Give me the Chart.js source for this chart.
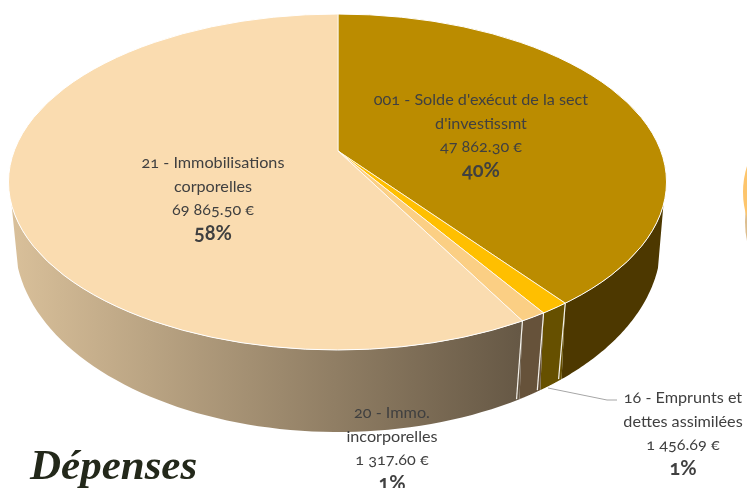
<!DOCTYPE html>
<html>
<head>
<meta charset="utf-8">
<script src="https://cdn.jsdelivr.net/npm/chart.js@4"></script>
<style>
  html, body { margin: 0; padding: 0; background: #fff; overflow: hidden; }
  #wrap { position: relative; width: 747px; height: 488px; overflow: hidden; }
  canvas { position: absolute; left: 0; top: 0; }
  .lbl { position: absolute; transform: translateX(-50%); text-align: center; white-space: nowrap;
         font-family: Lato, sans-serif; font-size: 16.2px; line-height: 23.5px; color: #404040;
         font-variant-numeric: oldstyle-nums; }
  .lbl b { font-size: 20px; }
  #title { position: absolute; left: 30px; top: 440px; font: italic bold 43px "Liberation Serif", serif; color: #23281a; }
</style>
</head>
<body>
<div id="wrap">
  <canvas id="pie" width="747" height="488"></canvas>
  <div id="title">Dépenses</div>
</div>
<script>
const categories = ["001 - Solde d'exécut de la sect d'investissmt", "16 - Emprunts et dettes assimilées", "20 - Immo. incorporelles", "21 - Immobilisations corporelles"];
const values = [47862.30, 1456.69, 1317.60, 69865.50];
const valueLabels = ["47 862.30 €", "1 456.69 €", "1 317.60 €", "69 865.50 €"];
const percentLabels = ["40%", "1%", "1%", "58%"];
const nameLines = [
  ["001 - Solde d'exécut de la sect", "d'investissmt"],
  ["16 - Emprunts et", "dettes assimilées"],
  ["20 - Immo.", "incorporelles"],
  ["21 - Immobilisations", "corporelles"]
];
const topColors = ["#bb8c00", "#ffbf00", "#fbcf84", "#fadcb0"];
const wallColors = ["#4d3800", "#665000", "#66523a", null];

// where each label block goes (center x, top y)
const labelPos = [[481, 87], [683, 385], [392, 400], [213, 150]];

// the picture is a perspective pie, so the apex is not the ellipse center
const apex = { x: 338, y: 151 };
const squash = 0.505;
const topEl = { cx: 337.5, cy: 182, rx: 329, ry: 168 };
const botEl = { cx: 338, cy: 242, rx: 323, ry: 190 };
const wallStart = 0.137;

function rayToParam(a) {
  const dx = Math.cos(a), dy = Math.sin(a) * squash;
  const ox = (apex.x - topEl.cx) / topEl.rx, oy = (apex.y - topEl.cy) / topEl.ry;
  const vx = dx / topEl.rx, vy = dy / topEl.ry;
  const A = vx * vx + vy * vy, B = 2 * (ox * vx + oy * vy), C = ox * ox + oy * oy - 1;
  const u = (-B + Math.sqrt(B * B - 4 * A * C)) / (2 * A);
  return Math.atan2(oy + u * vy, ox + u * vx);
}

function onEl(el, t) {
  return [el.cx + el.rx * Math.cos(t), el.cy + el.ry * Math.sin(t)];
}

const pie3d = {
  id: "pie3d",
  beforeDatasetsDraw(chart) {
    const ctx = chart.ctx;
    const arcs = chart.getDatasetMeta(0).data;

    // bit of the next pie, cut by the right edge of the picture
    ctx.save();
    ctx.fillStyle = "#dcbd8e";
    ctx.beginPath();
    ctx.ellipse(1063, 222, 318, 170, 0, 0, Math.PI * 2);
    ctx.fill();
    ctx.fillStyle = "#fdc56c";
    ctx.beginPath();
    ctx.ellipse(1061, 192, 318, 165, 0, 0, Math.PI * 2);
    ctx.fill();
    ctx.restore();

    arcs.forEach((arc, i) => {
      let lo = rayToParam(arc.startAngle);
      let hi = rayToParam(arc.endAngle);
      if (hi < lo) hi += Math.PI * 2;
      lo = Math.max(lo, wallStart);
      hi = Math.min(hi, Math.PI - wallStart);
      if (hi <= lo) return;
      ctx.save();
      ctx.beginPath();
      for (let k = 0; k <= 60; k++) {
        const p = onEl(topEl, lo + (hi - lo) * k / 60);
        k ? ctx.lineTo(p[0], p[1]) : ctx.moveTo(p[0], p[1]);
      }
      for (let k = 60; k >= 0; k--) {
        const p = onEl(botEl, lo + (hi - lo) * k / 60);
        ctx.lineTo(p[0], p[1]);
      }
      ctx.closePath();
      if (wallColors[i]) {
        ctx.fillStyle = wallColors[i];
      } else {
        const g = ctx.createLinearGradient(520, 0, 11, 0);
        g.addColorStop(0, "#665845");
        g.addColorStop(1, "#d9c09a");
        ctx.fillStyle = g;
      }
      ctx.fill();
      ctx.restore();
    });

    // white seams between wall pieces
    arcs.forEach(arc => {
      const t = rayToParam(arc.endAngle);
      if (t < wallStart || t > Math.PI - wallStart) return;
      const a = onEl(topEl, t), b = onEl(botEl, t);
      ctx.save();
      ctx.strokeStyle = "#f4f1ea";
      ctx.lineWidth = 1.2;
      ctx.beginPath();
      ctx.moveTo(a[0], a[1]);
      ctx.lineTo(b[0] - 3, b[1]);
      ctx.stroke();
      ctx.restore();
    });
  },
  beforeDatasetDraw(chart) {
    const ctx = chart.ctx;
    const c = chart.getDatasetMeta(0).data[0];
    ctx.save();
    ctx.beginPath();
    ctx.ellipse(topEl.cx, topEl.cy, topEl.rx, topEl.ry, 0, 0, Math.PI * 2);
    ctx.clip();
    ctx.translate(apex.x, apex.y);
    ctx.scale(1, squash);
    ctx.translate(-c.x, -c.y);
  },
  afterDatasetDraw(chart) {
    chart.ctx.restore();
  },
  afterDatasetsDraw(chart) {
    const ctx = chart.ctx;
    ctx.save();
    ctx.strokeStyle = "#fff";
    ctx.lineWidth = 1;
    ctx.beginPath();
    ctx.ellipse(topEl.cx, topEl.cy, topEl.rx, topEl.ry, 0, 0, Math.PI * 2);
    ctx.stroke();

    // leader line for the 16 label
    ctx.strokeStyle = "#a6a6a6";
    ctx.beginPath();
    ctx.moveTo(548, 388);
    ctx.lineTo(607, 400);
    ctx.lineTo(617, 400);
    ctx.stroke();
    ctx.restore();
  }
};

new Chart(document.getElementById("pie"), {
  type: "pie",
  data: {
    labels: categories,
    datasets: [{
      data: values,
      backgroundColor: topColors,
      borderColor: "#fff",
      borderWidth: 1,
      clip: false
    }]
  },
  options: {
    responsive: false,
    animation: false,
    radius: 440,
    events: [],
    plugins: { legend: { display: false }, tooltip: { enabled: false } }
  },
  plugins: [pie3d]
});

// data labels
const wrap = document.getElementById("wrap");
nameLines.forEach((lines, i) => {
  const d = document.createElement("div");
  d.className = "lbl";
  d.style.left = labelPos[i][0] + "px";
  d.style.top = labelPos[i][1] + "px";
  d.innerHTML = lines.join("<br>") + "<br>" + valueLabels[i] + "<br><b>" + percentLabels[i] + "</b>";
  wrap.appendChild(d);
});
</script>
</body>
</html>
